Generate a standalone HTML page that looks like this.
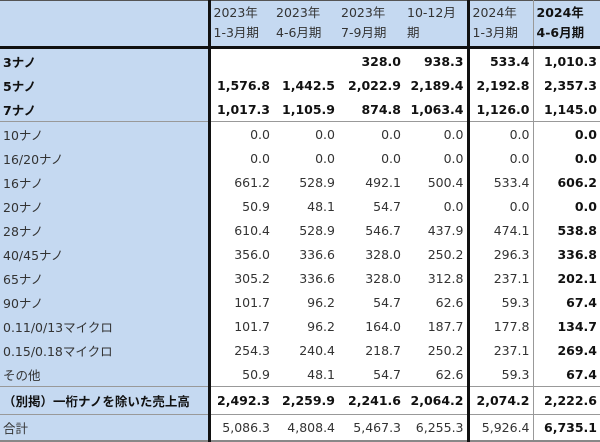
<!DOCTYPE html>
<html><head><meta charset="utf-8">
<style>
body{margin:0;width:600px;height:441px;overflow:hidden;background:#fff;}
table{position:absolute;left:0;top:0;border-collapse:collapse;table-layout:fixed;width:600px;
font-family:"DejaVu Sans","Noto Sans CJK JP",sans-serif;font-size:12.5px;color:#333;}
td{padding:0 3px;white-space:nowrap;height:24px;text-align:right;overflow:hidden;}
td.l{background:#c5d9f1;text-align:left;border-right:3px solid #111;}
tr.h td{background:#c5d9f1;text-align:left;vertical-align:top;line-height:20px;padding-top:2px;height:43px;border-bottom:3px solid #111;border-top:1px solid #555;}
.c4{border-right:3px solid #111;}
.c5{border-right:1px solid #999;}
.b{font-weight:bold;color:#111;}
tr.sep td{border-bottom:1px solid #999;}
tr.sep2 td{border-bottom:1px solid #999;}
tr.tot td{border-bottom:2px solid #888;height:25px;}
</style></head><body>
<table>
<colgroup><col style="width:209px"><col style="width:64px"><col style="width:65px"><col style="width:66px"><col style="width:64px"><col style="width:65px"><col style="width:67px"></colgroup>
<tr class="h"><td class="l"></td><td>2023年<br>1-3月期</td><td>2023年<br>4-6月期</td><td>2023年<br>7-9月期</td><td class="c4">10-12月<br>期</td><td class="c5">2024年<br>1-3月期</td><td class="b">2024年<br>4-6月期</td></tr>
<tr class="b"><td class="l">3ナノ</td><td></td><td></td><td>328.0</td><td class="c4">938.3</td><td class="c5">533.4</td><td>1,010.3</td></tr>
<tr class="b"><td class="l">5ナノ</td><td>1,576.8</td><td>1,442.5</td><td>2,022.9</td><td class="c4">2,189.4</td><td class="c5">2,192.8</td><td>2,357.3</td></tr>
<tr class="b sep"><td class="l">7ナノ</td><td>1,017.3</td><td>1,105.9</td><td>874.8</td><td class="c4">1,063.4</td><td class="c5">1,126.0</td><td>1,145.0</td></tr>
<tr><td class="l">10ナノ</td><td>0.0</td><td>0.0</td><td>0.0</td><td class="c4">0.0</td><td class="c5">0.0</td><td class="b">0.0</td></tr>
<tr><td class="l">16/20ナノ</td><td>0.0</td><td>0.0</td><td>0.0</td><td class="c4">0.0</td><td class="c5">0.0</td><td class="b">0.0</td></tr>
<tr><td class="l">16ナノ</td><td>661.2</td><td>528.9</td><td>492.1</td><td class="c4">500.4</td><td class="c5">533.4</td><td class="b">606.2</td></tr>
<tr><td class="l">20ナノ</td><td>50.9</td><td>48.1</td><td>54.7</td><td class="c4">0.0</td><td class="c5">0.0</td><td class="b">0.0</td></tr>
<tr><td class="l">28ナノ</td><td>610.4</td><td>528.9</td><td>546.7</td><td class="c4">437.9</td><td class="c5">474.1</td><td class="b">538.8</td></tr>
<tr><td class="l">40/45ナノ</td><td>356.0</td><td>336.6</td><td>328.0</td><td class="c4">250.2</td><td class="c5">296.3</td><td class="b">336.8</td></tr>
<tr><td class="l">65ナノ</td><td>305.2</td><td>336.6</td><td>328.0</td><td class="c4">312.8</td><td class="c5">237.1</td><td class="b">202.1</td></tr>
<tr><td class="l">90ナノ</td><td>101.7</td><td>96.2</td><td>54.7</td><td class="c4">62.6</td><td class="c5">59.3</td><td class="b">67.4</td></tr>
<tr><td class="l">0.11/0/13マイクロ</td><td>101.7</td><td>96.2</td><td>164.0</td><td class="c4">187.7</td><td class="c5">177.8</td><td class="b">134.7</td></tr>
<tr><td class="l">0.15/0.18マイクロ</td><td>254.3</td><td>240.4</td><td>218.7</td><td class="c4">250.2</td><td class="c5">237.1</td><td class="b">269.4</td></tr>
<tr class="sep2"><td class="l">その他</td><td>50.9</td><td>48.1</td><td>54.7</td><td class="c4">62.6</td><td class="c5">59.3</td><td class="b">67.4</td></tr>
<tr class="b sep2"><td class="l" style="height:27px">（別掲）一桁ナノを除いた売上高</td><td>2,492.3</td><td>2,259.9</td><td>2,241.6</td><td class="c4">2,064.2</td><td class="c5">2,074.2</td><td>2,222.6</td></tr>
<tr class="tot"><td class="l">合計</td><td>5,086.3</td><td>4,808.4</td><td>5,467.3</td><td class="c4">6,255.3</td><td class="c5">5,926.4</td><td class="b">6,735.1</td></tr>
</table>
</body></html>
